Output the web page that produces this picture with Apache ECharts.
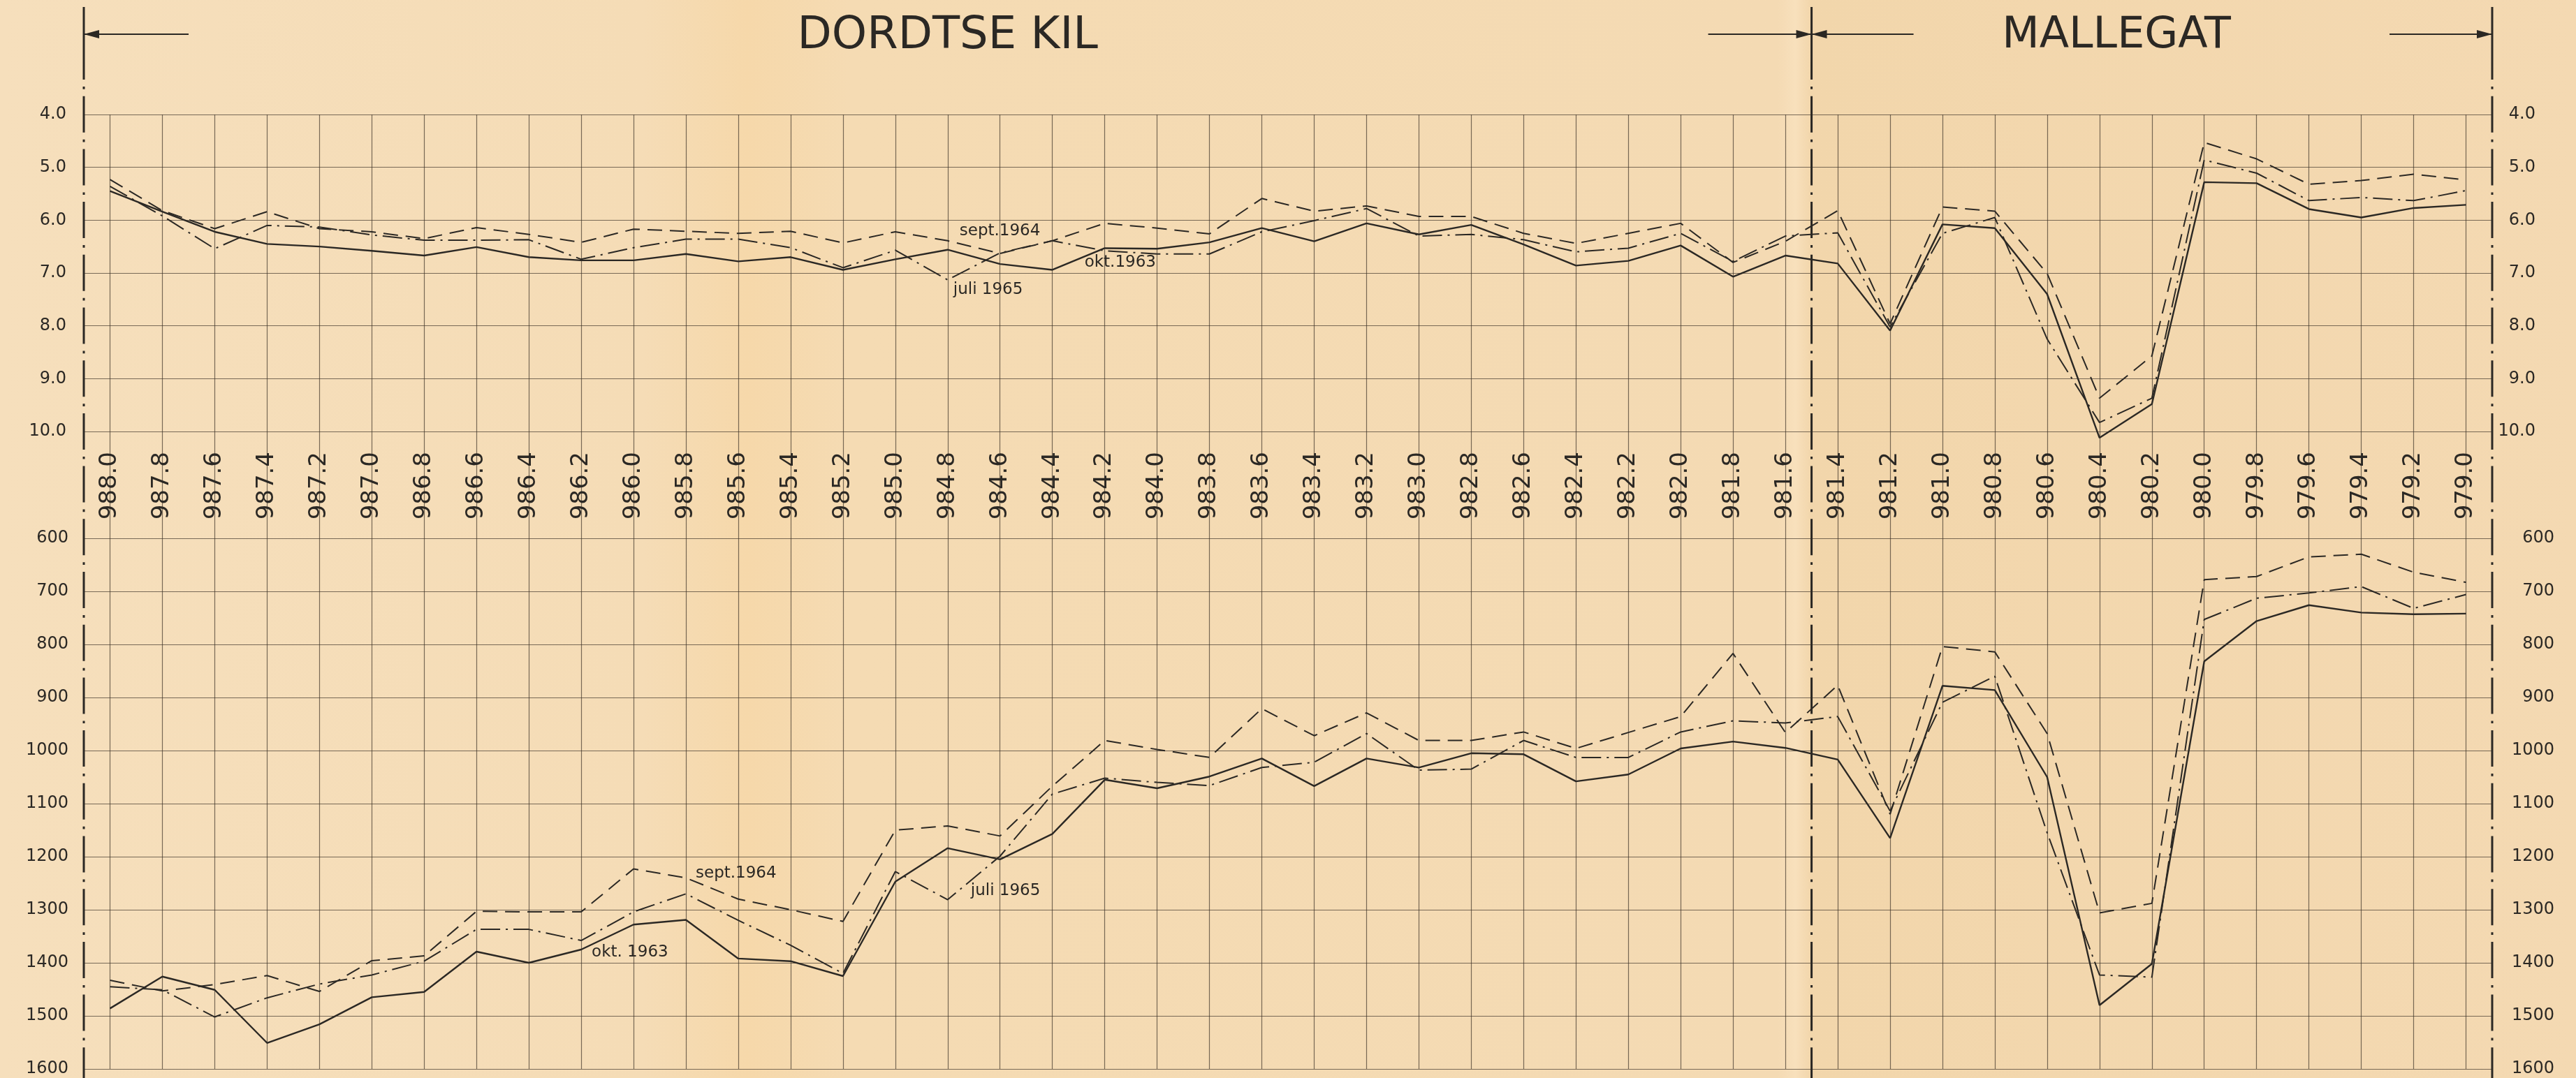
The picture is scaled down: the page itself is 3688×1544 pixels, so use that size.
<!DOCTYPE html>
<html>
<head>
<meta charset="utf-8">
<title>Dordtse Kil - Mallegat</title>
<script src="https://cdn.jsdelivr.net/npm/echarts@6/dist/echarts.min.js"></script>
<style>
  html, body { margin: 0; padding: 0; background: #f5dcb7; }
  #chart { width: 3688px; height: 1544px; }
</style>
</head>
<body>
<div id="chart"></div>
<script>
// kilometrering (rivier-km), van links naar rechts
const km = ['988.0','987.8','987.6','987.4','987.2','987.0','986.8','986.6','986.4','986.2',
  '986.0','985.8','985.6','985.4','985.2','985.0','984.8','984.6','984.4','984.2',
  '984.0','983.8','983.6','983.4','983.2','983.0','982.8','982.6','982.4','982.2',
  '982.0','981.8','981.6','981.4','981.2','981.0','980.8','980.6','980.4','980.2',
  '980.0','979.8','979.6','979.4','979.2','979.0']

// bovenste grafiek (4.0 - 10.0)
const diepteOkt1963 = [5.45,5.84,6.22,6.45,6.50,6.58,6.67,6.51,6.70,6.76,
  6.76,6.64,6.78,6.70,6.94,6.74,6.56,6.83,6.94,6.53,
  6.54,6.42,6.15,6.40,6.06,6.27,6.09,6.46,6.86,6.77,
  6.48,7.07,6.67,6.82,8.09,6.08,6.15,7.40,10.12,9.48,
  5.28,5.30,5.79,5.95,5.77,5.71]
const diepteSep1964 = [5.23,5.82,6.16,5.84,6.16,6.22,6.35,6.14,6.27,6.42,
  6.17,6.21,6.25,6.21,6.43,6.22,6.39,6.63,6.39,6.06,
  6.15,6.26,5.59,5.83,5.73,5.93,5.93,6.25,6.44,6.25,
  6.06,6.80,6.40,5.82,7.96,5.75,5.83,7.01,9.37,8.57,
  4.53,4.84,5.32,5.25,5.13,5.24]
const diepteJul1965 = [5.36,5.92,6.54,6.10,6.13,6.28,6.38,6.38,6.37,6.74,
  6.52,6.36,6.36,6.52,6.90,6.57,7.13,6.62,6.39,6.58,
  6.64,6.64,6.22,6.01,5.78,6.30,6.27,6.37,6.60,6.53,
  6.25,6.78,6.30,6.24,8.02,6.25,5.95,8.25,9.83,9.37,
  4.86,5.11,5.63,5.57,5.63,5.44]

// onderste grafiek (600 - 1600)
const waardeOkt1963 = [1486,1426,1451,1551,1516,1465,1455,1379,1400,1375,
  1328,1319,1392,1397,1425,1247,1184,1205,1157,1055,
  1071,1049,1015,1067,1015,1032,1005,1007,1058,1045,
  996,983,995,1017,1165,878,886,1050,1480,1402,
  832,756,726,740,743,742]
const waardeSep1964 = [1433,1453,1441,1424,1454,1396,1387,1303,1304,1304,
  1223,1240,1280,1300,1322,1150,1142,1161,1067,981,
  998,1013,921,972,929,981,981,965,996,966,
  936,817,966,877,1120,804,814,968,1306,1288,
  678,672,635,630,664,683]
const waardeJul1965 = [1445,1451,1502,1466,1440,1423,1397,1337,1337,1358,
  1304,1270,1320,1367,1420,1228,1281,1199,1082,1052,
  1060,1066,1032,1022,968,1037,1035,981,1013,1013,
  965,944,948,936,1114,909,860,1155,1423,1427,
  753,713,703,691,732,706]

const ink = '#2b2824'
const gridInk = 'rgba(60,50,40,0.68)'
const font = 'DejaVu Sans'

const dashed = [21, 11]
const dashDot = [28, 8, 3, 8]

function lijn(name, data, idx, type, width) {
  return {
    name: name,
    type: 'line',
    xAxisIndex: idx,
    yAxisIndex: idx * 2,
    data: data,
    symbol: 'none',
    clip: false,
    silent: true,
    lineStyle: { color: ink, width: width, type: type }
  }
}

function yAs(gridIndex, min, max, interval, pos, margin, digits, split) {
  return {
    type: 'value',
    gridIndex: gridIndex,
    position: pos,
    inverse: true,
    min: min,
    max: max,
    interval: interval,
    axisLine: { show: false },
    axisTick: { show: false },
    splitLine: { show: split, lineStyle: { color: gridInk, width: 1.2 } },
    axisLabel: {
      fontFamily: font,
      fontSize: 24,
      color: ink,
      margin: margin,
      align: 'right',
      formatter: v => v.toFixed(digits)
    }
  }
}

const chartDom = document.getElementById('chart')
const chart = echarts.init(chartDom)

const option = {
  animation: false,
  backgroundColor: {
    type: 'linear', x: 0, y: 0, x2: 1, y2: 0,
    colorStops: [
      { offset: 0, color: '#f6dfbc' },
      { offset: 0.25, color: '#f5dcb6' },
      { offset: 0.29, color: '#f6d8aa' },
      { offset: 0.33, color: '#f5dbb3' },
      { offset: 0.69, color: '#f4dab3' },
      { offset: 0.697, color: '#f8e0bc' },
      { offset: 0.703, color: '#f2d6ab' },
      { offset: 1, color: '#f4d9b2' }
    ]
  },
  textStyle: { fontFamily: font },
  grid: [
    { left: 120, right: 120, top: 164, height: 454 },
    { left: 120, right: 120, top: 771, height: 760 },
    // alleen voor de verticale lijnen door beide grafieken heen
    { left: 120, right: 120, top: 164, height: 1367 }
  ],
  xAxis: [
    {
      type: 'category', gridIndex: 0, data: km, boundaryGap: true,
      axisLine: { show: false }, axisTick: { show: false }, splitLine: { show: false },
      axisLabel: { interval: 0, rotate: 90, margin: 29, fontFamily: font, fontSize: 34, color: ink }
    },
    {
      type: 'category', gridIndex: 1, data: km, boundaryGap: true,
      axisLine: { show: false }, axisTick: { show: false }, axisLabel: { show: false }, splitLine: { show: false }
    },
    {
      type: 'category', gridIndex: 2, data: km, boundaryGap: true,
      axisLine: { show: false }, axisLabel: { show: false }, splitLine: { show: false },
      axisTick: { show: true, interval: 0, alignWithLabel: true, inside: true, length: 1367,
        lineStyle: { color: gridInk, width: 1.2 } }
    }
  ],
  yAxis: [
    yAs(0, 4, 10, 1, 'left', 25, 1, true),
    yAs(0, 4, 10, 1, 'right', 62, 1, false),
    yAs(1, 600, 1600, 100, 'left', 22, 0, true),
    yAs(1, 600, 1600, 100, 'right', 89, 0, false),
    { type: 'value', gridIndex: 2, min: 0, max: 1, show: false }
  ],
  series: [
    lijn('okt. 1963', diepteOkt1963, 0, 'solid', 2.4),
    lijn('sept. 1964', diepteSep1964, 0, dashed, 2),
    lijn('juli 1965', diepteJul1965, 0, dashDot, 2),
    lijn('okt. 1963', waardeOkt1963, 1, 'solid', 2.4),
    lijn('sept. 1964', waardeSep1964, 1, dashed, 2),
    lijn('juli 1965', waardeJul1965, 1, dashDot, 2)
  ]
}

chart.setOption(option)

// decoratie: grenslijnen, pijlen, titels en bijschriften
const px = (grid, cat, val) => chart.convertToPixel({ xAxisIndex: grid, yAxisIndex: grid * 2 }, [cat, val])
const L = 120
const R = 3688 - 120
const MID = (px(0, '981.6', 4)[0] + px(0, '981.4', 4)[0]) / 2
const arrowY = 49
const H = 1544

const graphic = []

function grens(x) {
  graphic.push({ type: 'line', silent: true, shape: { x1: x, y1: 10, x2: x, y2: 89 },
    style: { stroke: ink, lineWidth: 3 } })
  graphic.push({ type: 'line', silent: true, shape: { x1: x, y1: 89, x2: x, y2: H },
    style: { stroke: ink, lineWidth: 3, lineDash: [52, 10, 3.7, 10], lineDashOffset: 27 } })
}
grens(L); grens(MID); grens(R)

function pijl(from, tip) {
  const dir = tip > from ? 1 : -1
  graphic.push({ type: 'line', silent: true, shape: { x1: from, y1: arrowY, x2: tip, y2: arrowY },
    style: { stroke: ink, lineWidth: 2 } })
  graphic.push({ type: 'polygon', silent: true,
    shape: { points: [[tip, arrowY], [tip - dir * 22, arrowY - 6], [tip - dir * 22, arrowY + 6]] },
    style: { fill: ink } })
}
pijl(L + 150, L)
pijl(MID - 148, MID)
pijl(MID + 146, MID)
pijl(R - 147, R)

graphic.push({ type: 'text', silent: true, x: (L + MID) / 2, y: arrowY + 3,
  style: { text: 'DORDTSE KIL', font: '64px "DejaVu Sans"', fill: ink, align: 'center', verticalAlign: 'middle' } })
graphic.push({ type: 'text', silent: true, x: 3030, y: arrowY + 3,
  style: { text: 'MALLEGAT', font: '62px "DejaVu Sans"', fill: ink, align: 'center', verticalAlign: 'middle' } })

const bijschriften = [
  { text: 'sept.1964', grid: 0, cat: '984.8', val: 6.21, dx: 17 },
  { text: 'okt.1963', grid: 0, cat: '984.4', val: 6.80, dx: 46 },
  { text: 'juli 1965', grid: 0, cat: '984.8', val: 7.32, dx: 8 },
  { text: 'sept.1964', grid: 1, cat: '985.8', val: 1232, dx: 14 },
  { text: 'okt. 1963', grid: 1, cat: '986.2', val: 1380, dx: 15 },
  { text: 'juli 1965', grid: 1, cat: '984.8', val: 1264, dx: 33 }
]
bijschriften.forEach(b => {
  const p = px(b.grid, b.cat, b.val)
  graphic.push({ type: 'text', silent: true, x: p[0] + b.dx, y: p[1],
    style: { text: b.text, font: '23px "DejaVu Sans"', fill: ink, align: 'left', verticalAlign: 'middle' } })
})

chart.setOption({ graphic: graphic })
</script>
</body>
</html>
